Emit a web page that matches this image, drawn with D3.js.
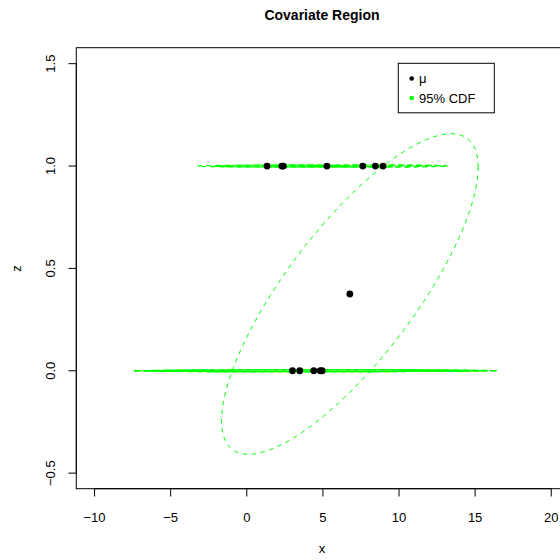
<!DOCTYPE html>
<html>
<head>
<meta charset="utf-8">
<script src="https://cdn.jsdelivr.net/npm/d3@7"></script>
<style>
  html, body { margin: 0; padding: 0; background: #fff; }
  svg { display: block; font-family: "Liberation Sans", Arial, Helvetica, sans-serif; }
</style>
</head>
<body>
<svg id="chart" width="560" height="560"></svg>
<script>
// Observations (x, z) with the half-width of each one's 95% CDF region along x
const obsX = [1.33, 2.30, 2.40, 5.26, 7.62, 8.45, 8.95, 3.00, 3.48, 4.40, 4.82, 4.95];
const obsZ = [1, 1, 1, 1, 1, 1, 1, 0, 0, 0, 0, 0];
const obsHalfX = [4.59, 4.45, 4.40, 4.30, 4.35, 4.30, 4.25, 10.56, 10.9, 11.2, 11.4, 11.48];
const obsHalfZ = 0.0045;

// Mean vector and its 95% region (half-extents along x and z, correlation)
const muX = [6.77];
const muZ = [0.375];
const regionHalfX = 8.43;
const regionHalfZ = 0.783;
const regionRho = 0.79;

const xTicks = [-10, -5, 0, 5, 10, 15, 20];
const zTicks = [-0.5, 0.0, 0.5, 1.0, 1.5];
const legendLabels = ["\u03bc", "95% CDF"];
const legendColors = ["#000000", "#00ff00"];

const svg = d3.select("#chart");
svg.append("rect").attr("width", 560).attr("height", 560).attr("fill", "#fff");

const x = d3.scaleLinear().domain([-11.2, 21.1]).range([76.3, 568]);
const y = d3.scaleLinear().domain([-0.576, 1.578]).range([488.7, 47.7]);

const green = "#00ff00";
const dash = "4.5,4.5";

// Ellipse outline generator: centre (cx, cz), half-extents a, b, correlation r
function ellipsePts(cx, cz, a, b, r, n = 120) {
  const pts = [];
  const s = Math.sqrt(1 - r * r);
  for (let i = 0; i <= n; i++) {
    const t = (i / n) * 2 * Math.PI;
    pts.push([cx + a * Math.cos(t), cz + b * (r * Math.cos(t) + s * Math.sin(t))]);
  }
  return pts;
}
const line = d3.line().x(d => x(d[0])).y(d => y(d[1]));

const plot = svg.append("g");

// Per-observation 95% regions
obsX.forEach((ox, i) => {
  plot.append("path")
    .attr("d", line(ellipsePts(ox, obsZ[i], obsHalfX[i], obsHalfZ, 0.1)))
    .attr("fill", "none")
    .attr("stroke", green)
    .attr("stroke-width", 1.2)
    .attr("stroke-dasharray", dash);
});

// Region for the mean
plot.append("path")
  .attr("d", line(ellipsePts(muX[0], muZ[0], regionHalfX, regionHalfZ, regionRho, 160)))
  .attr("fill", "none")
  .attr("stroke", green)
  .attr("stroke-width", 1)
  .attr("stroke-dasharray", dash);

// Points
plot.selectAll("circle.obs")
  .data(obsX.map((v, i) => [v, obsZ[i]]))
  .join("circle")
  .attr("class", "obs")
  .attr("cx", d => x(d[0]))
  .attr("cy", d => y(d[1]))
  .attr("r", 3.4)
  .attr("fill", "#000");

plot.append("circle")
  .attr("cx", x(muX[0]))
  .attr("cy", y(muZ[0]))
  .attr("r", 3.4)
  .attr("fill", "#000");

// Plot frame
svg.append("rect")
  .attr("x", 76.3).attr("y", 47.7)
  .attr("width", 568 - 76.3).attr("height", 488.7 - 47.7)
  .attr("fill", "none").attr("stroke", "#000").attr("stroke-width", 1);

// X axis
const xAxis = svg.append("g");
xAxis.append("line")
  .attr("x1", x(xTicks[0])).attr("x2", x(xTicks[xTicks.length - 1]))
  .attr("y1", 488.7).attr("y2", 488.7).attr("stroke", "#000");
xAxis.selectAll("line.tick").data(xTicks).join("line")
  .attr("class", "tick")
  .attr("x1", d => x(d)).attr("x2", d => x(d))
  .attr("y1", 488.7).attr("y2", 496.5)
  .attr("stroke", "#000");
xAxis.selectAll("text").data(xTicks).join("text")
  .attr("x", d => x(d)).attr("y", 521.5)
  .attr("text-anchor", "middle")
  .attr("font-size", 13)
  .text(d => d < 0 ? "\u2212" + Math.abs(d) : d);

// Z axis
const yAxis = svg.append("g");
yAxis.append("line")
  .attr("x1", 76.3).attr("x2", 76.3)
  .attr("y1", y(zTicks[0])).attr("y2", y(zTicks[zTicks.length - 1]))
  .attr("stroke", "#000");
yAxis.selectAll("line.tick").data(zTicks).join("line")
  .attr("class", "tick")
  .attr("x1", 68.5).attr("x2", 76.3)
  .attr("y1", d => y(d)).attr("y2", d => y(d))
  .attr("stroke", "#000");
yAxis.selectAll("text").data(zTicks).join("text")
  .attr("transform", d => `translate(55,${y(d)}) rotate(-90)`)
  .attr("text-anchor", "middle")
  .attr("font-size", 13)
  .text(d => (d < 0 ? "\u2212" + Math.abs(d).toFixed(1) : d.toFixed(1)));

// Titles
svg.append("text")
  .attr("x", 322).attr("y", 20)
  .attr("text-anchor", "middle")
  .attr("font-size", 14)
  .attr("font-weight", "bold")
  .text("Covariate Region");
svg.append("text")
  .attr("x", 322).attr("y", 553)
  .attr("text-anchor", "middle")
  .attr("font-size", 13)
  .text("x");
svg.append("text")
  .attr("transform", "translate(21,268.5) rotate(-90)")
  .attr("text-anchor", "middle")
  .attr("font-size", 13)
  .text("z");

// Legend
const lg = svg.append("g");
lg.append("rect")
  .attr("x", 398.3).attr("y", 63.3)
  .attr("width", 96).attr("height", 49.5)
  .attr("fill", "#fff").attr("stroke", "#000");
legendLabels.forEach((lab, i) => {
  const cy = 78.5 + i * 19.5;
  lg.append("circle").attr("cx", 411.7).attr("cy", cy).attr("r", 2.3).attr("fill", legendColors[i]);
  lg.append("text").attr("x", 419).attr("y", cy + 4.5).attr("font-size", 13).text(lab);
});
</script>
</body>
</html>
